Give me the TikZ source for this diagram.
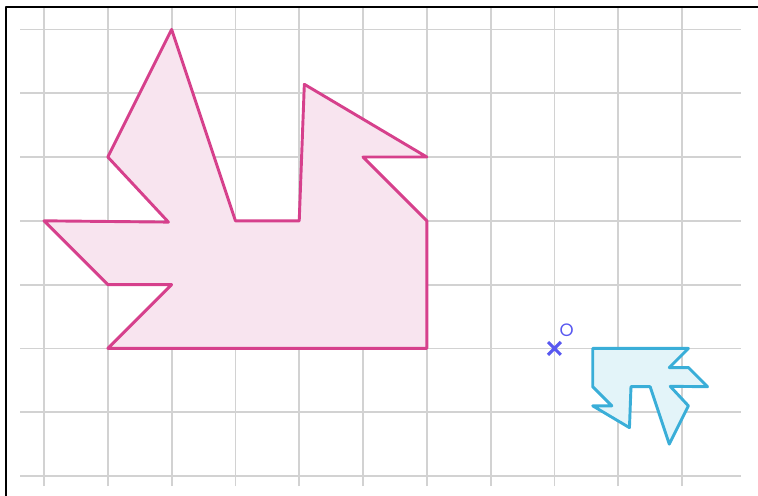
\documentclass[tikz,border=0pt]{standalone}
\usepackage{fontspec}
\newfontfamily\labelfont{Poppins}
\definecolor{ShapePink}{HTML}{D6408C}
\definecolor{ShapePinkFill}{HTML}{F8E4EF}
\definecolor{ImageBlue}{HTML}{3AAED8}
\definecolor{ImageBlueFill}{HTML}{E3F4F9}
\definecolor{CentreViolet}{HTML}{5858F0}
\usepackage{tikz}
\usetikzlibrary{positioning, calc}

\begin{document}
\begin{tikzpicture}[x=1cm, y=1cm, line join=round,
  gridline/.style={gray!35, line width=0.8pt},
  shapeline/.style={line width=1.3pt}]
  \useasboundingbox (-0.690,-0.313) rectangle (11.191,7.461);
  % grid
  \foreach \y in {0,...,7}
    \draw[gridline] (-0.376,\y) -- (10.925,\y);
  \foreach \x in {0,...,10}
    \draw[gridline] (\x,-0.157) -- (\x,7.335);
  % frame edge
  \draw[black, line width=0.9pt] (-0.603,-0.313) -- (-0.603,7.351) -- (11.191,7.351);
  % original shape
  \draw[shapeline, ShapePink, fill=ShapePinkFill]
    (2,7) -- (1,5) -- (1.95,3.98) -- (0,4) -- (1,3) -- (2,3) -- (1,2)
    -- (6,2) -- (6,4) -- (5,5) -- (6,5) -- (4.08,6.14) -- (4,4) -- (3,4) -- cycle;
  % image: scale factor -0.3 about O = (8,2)
  % (x,y) -> (10.4-0.3x, 2.6-0.3y)
  \draw[shapeline, ImageBlue, fill=ImageBlueFill]
    (9.8,0.5) -- (10.1,1.1) -- (9.815,1.406) -- (10.4,1.4) -- (10.1,1.7) -- (9.8,1.7) -- (10.1,2)
    -- (8.6,2) -- (8.6,1.4) -- (8.9,1.1) -- (8.6,1.1) -- (9.176,0.758) -- (9.2,1.4) -- (9.5,1.4) -- cycle;
  % centre of enlargement
  \coordinate (O) at (8,2);
  \draw[CentreViolet, line width=1.4pt] ($(O)+(-0.1,-0.1)$) -- ($(O)+(0.1,0.1)$)
    ($(O)+(-0.1,0.1)$) -- ($(O)+(0.1,-0.1)$);
  \node[CentreViolet, font=\labelfont\fontsize{8}{9}\selectfont, inner sep=0pt]
    (Olabel) at (8.19,2.29) {O};
\end{tikzpicture}
\end{document}
